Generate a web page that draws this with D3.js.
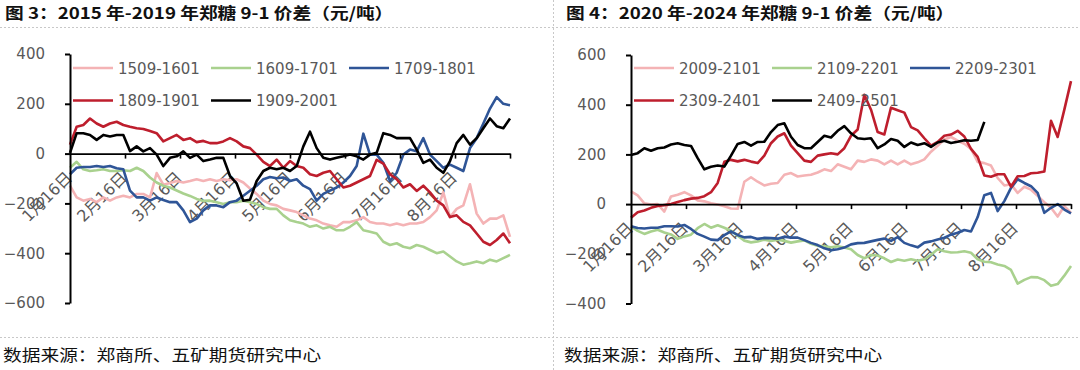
<!DOCTYPE html>
<html>
<head>
<meta charset="utf-8">
<script src="https://cdn.jsdelivr.net/npm/d3@7"></script>
<style>
  body { margin: 0; background: #fff; }
</style>
</head>
<body>
<div class="canvas"></div>
<script>
// x categories (months since 1月16日)
const monthLabels = ['1月16日', '2月16日', '3月16日', '4月16日', '5月16日', '6月16日', '7月16日', '8月16日'];
// samples every ~3.7 days
const STEP = 20 / 165;

// 图3: 2015-2019
const names3 = ['1509-1601', '1609-1701', '1709-1801', '1809-1901', '1909-2001'];
const s1509 = [-129,-176,-189,-182,-195,-176,-189,-176,-169,-176,-162,-162,-176,-78,-125,-118,-110,-116,-110,-103,-110,-103,-110,-103,-107,-103,-116,-140,-162,-189,-202,-208,-222,-228,-235,-248,-261,-268,-281,-288,-294,-275,-275,-268,-255,-275,-281,-281,-288,-281,-288,-281,-281,-275,-255,-228,-156,-255,-222,-208,-123,-241,-281,-261,-261,-248,-334];
const s1609 = [-57,-33,-63,-70,-67,-63,-70,-70,-67,-70,-57,-70,-96,-116,-129,-136,-148,-160,-170,-182,-190,-189,-195,-202,-195,-195,-189,-195,-202,-215,-222,-222,-248,-268,-275,-281,-294,-288,-301,-294,-308,-308,-294,-275,-308,-314,-321,-354,-367,-360,-374,-380,-367,-374,-387,-400,-393,-413,-433,-446,-440,-433,-440,-426,-433,-420,-407];
const s1709 = [-83,-57,-54,-54,-50,-54,-50,-59,-63,-149,-176,-176,-189,-176,-186,-195,-195,-228,-275,-261,-228,-208,-208,-215,-195,-189,-169,-149,-129,-103,-94,-99,-96,-110,-103,-129,-143,-189,-162,-149,-136,-116,-90,-50,80,-4,-4,-37,-110,-77,-4,16,9,62,-4,-30,-57,-44,-57,-70,22,62,121,181,227,200,194];
const s1809 = [36,108,115,141,121,108,121,128,115,108,102,99,91,82,49,62,75,55,62,46,51,42,42,49,62,49,29,22,-4,-33,-50,-24,-57,-30,-50,-57,-83,-90,-77,-70,-103,-136,-129,-116,-103,-90,-25,-40,-83,-103,-136,-123,-150,-129,-156,-189,-208,-255,-248,-274,-288,-321,-354,-367,-347,-321,-360];
const s1909 = [3,82,82,75,55,75,69,75,75,10,29,9,22,-4,-50,-17,-11,9,-17,-4,-30,-24,-17,-17,-90,-120,-189,-185,-110,-70,-57,-63,-57,-70,-50,29,88,22,-17,-24,-17,-11,-4,-11,-24,-4,3,82,75,62,62,62,16,-37,-24,-57,-77,-30,42,75,36,62,102,141,110,102,141];
const ticks3 = [-600, -400, -200, 0, 200, 400];

// 图4: 2020-2024
const names4 = ['2009-2101', '2109-2201', '2209-2301', '2309-2401', '2409-2501'];
const s2009 = [51,35,3,-2,0,-30,31,38,48,35,15,11,3,-2,-9,-18,-19,90,108,90,75,82,85,118,125,111,115,118,127,140,133,160,150,140,175,170,180,175,160,175,160,175,160,168,180,211,235,260,270,255,243,222,170,165,155,105,75,80,45,70,58,33,8,-15,-50,-8,-35];
const s2109 = [-90,-108,-120,-110,-103,-114,-122,-140,-130,-123,-97,-80,-95,-85,-95,-107,-127,-147,-154,-150,-143,-148,-143,-148,-155,-150,-146,-160,-168,-170,-174,-170,-175,-182,-205,-218,-205,-207,-218,-233,-223,-228,-222,-228,-222,-204,-182,-190,-195,-194,-190,-196,-222,-232,-234,-243,-249,-265,-320,-305,-294,-295,-306,-329,-322,-288,-249];
const s2209 = [-89,-96,-98,-95,-95,-89,-89,-90,-84,-100,-120,-131,-143,-145,-125,-110,-124,-134,-132,-140,-136,-137,-139,-131,-135,-135,-145,-156,-165,-178,-186,-182,-175,-162,-157,-156,-150,-144,-139,-148,-133,-156,-166,-174,-155,-150,-142,-135,-123,-115,-104,-110,-52,36,45,-28,12,65,100,85,72,45,-35,-15,0,-22,-37];
const s2309 = [-55,-33,-26,-15,-8,-4,0,8,16,22,25,32,48,85,170,178,172,178,171,165,195,245,272,285,235,205,175,170,195,200,205,200,225,275,300,440,380,290,280,388,378,368,310,297,265,235,250,275,280,295,272,222,190,115,110,120,120,70,112,113,124,126,131,335,270,380,495];
const s2409 = [198,205,225,215,225,228,240,245,238,234,185,140,150,155,151,195,242,250,235,250,251,290,318,325,271,238,225,225,250,275,268,295,314,285,265,262,265,225,240,262,255,230,248,238,245,230,248,255,246,251,257,255,258,331];
const ticks4 = [-400, -200, 0, 200, 400, 600];

const colors = ['#f4b3b5', '#a9d18e', '#2f5597', '#be1e2d', '#000000'];
const source = '数据来源：郑商所、五矿期货研究中心';

const svg = d3
  .select('.canvas')
  .append('svg')
  .attr('width', 1080)
  .attr('height', 370);

// dotted page frame
const frame = svg.append('g')
  .attr('stroke', '#c8c8c8')
  .attr('stroke-dasharray', '2,2')
  .attr('stroke-width', 1);
frame.append('line').attr('x1', 0).attr('x2', 1080).attr('y1', 27.5).attr('y2', 27.5);
frame.append('line').attr('x1', 0).attr('x2', 1080).attr('y1', 337.5).attr('y2', 337.5);
frame.append('line').attr('x1', 553.5).attr('x2', 553.5).attr('y1', 0).attr('y2', 370);

// text that is a bit wider than the font (picture is stretched sideways)
const wideText = (g, x, y, str, size, weight) =>
  g.append('text')
    .attr('transform', `translate(${x},${y}) scale(1.17,1)`)
    .attr('font-family', '"Noto Sans CJK SC", sans-serif')
    .attr('font-size', size)
    .attr('font-weight', weight)
    .attr('fill', '#111')
    .text(str);

const fmt = (d) => (d < 0 ? '\u2212' + Math.abs(d) : d);

function drawPanel(p) {
  const g = svg.append('g');

  wideText(g, p.titleX, 19, p.title, 16, 'bold');
  wideText(g, p.titleX - 2, 361, source, 16, 'normal');

  const x = d3.scaleLinear().domain([0, 8]).range([p.left, p.right]);
  const y = d3.scaleLinear().domain(d3.extent(p.ticks)).range([p.bottom, p.top]);
  const y0 = y(0);

  // month labels sit under the series
  g.selectAll('text.month')
    .data(monthLabels)
    .enter()
    .append('text')
    .attr('class', 'month')
    .attr('transform', (d, i) => `translate(${x(i) + 3},${y0 + 25}) rotate(-45)`)
    .attr('text-anchor', 'end')
    .attr('font-family', '"DejaVu Sans", "Noto Sans CJK SC", sans-serif')
    .attr('font-size', 16)
    .attr('fill', '#595959')
    .text((d) => d);

  // series, first drawn at the back
  const line = d3.line()
    .x((d, i) => x(i * STEP))
    .y((d) => y(d));

  g.selectAll('path.series')
    .data(p.series)
    .enter()
    .append('path')
    .attr('class', 'series')
    .attr('fill', 'none')
    .attr('stroke', (d, i) => colors[i])
    .attr('stroke-width', 2.6)
    .attr('stroke-linejoin', 'round')
    .attr('d', line);

  // y axis
  const yAxis = g.append('g')
    .attr('transform', `translate(${p.left},0)`)
    .call(d3.axisLeft(y).tickValues(p.ticks).tickSize(5).tickSizeOuter(0).tickPadding(20).tickFormat(fmt));
  yAxis.select('.domain').attr('stroke', '#000').attr('stroke-width', 2);
  yAxis.selectAll('.tick line').attr('stroke', '#000').attr('stroke-width', 2);
  yAxis.selectAll('text')
    .attr('font-family', '"DejaVu Sans", sans-serif')
    .attr('font-size', 15)
    .attr('fill', '#595959');

  // category axis crossing at zero
  const xAxis = g.append('g')
    .attr('transform', `translate(0,${y0})`)
    .call(d3.axisBottom(x).tickValues(d3.range(1, 9)).tickSize(5).tickSizeOuter(0).tickFormat(''));
  xAxis.select('.domain').attr('stroke', '#000').attr('stroke-width', 1.6);
  xAxis.selectAll('.tick line').attr('stroke', '#000').attr('stroke-width', 1.6);

  // legend, three per row, no box
  const legend = g.selectAll('g.legend')
    .data(p.names)
    .enter()
    .append('g')
    .attr('class', 'legend')
    .attr('transform', (d, i) => `translate(${p.left + 3 + (i % 3) * 138},${68 + Math.floor(i / 3) * 32.5})`);
  legend.append('line')
    .attr('x2', 40)
    .attr('stroke', (d, i) => colors[i])
    .attr('stroke-width', 2.6);
  legend.append('text')
    .attr('x', 45)
    .attr('y', 5.5)
    .attr('font-family', '"DejaVu Sans", sans-serif')
    .attr('font-size', 15)
    .attr('fill', '#595959')
    .text((d) => d);
}

drawPanel({
  title: '图 3：2015 年-2019 年郑糖 9-1 价差（元/吨）',
  titleX: 5,
  left: 70, right: 510, top: 54, bottom: 303,
  ticks: ticks3,
  names: names3,
  series: [s1509, s1609, s1709, s1809, s1909]
});

drawPanel({
  title: '图 4：2020 年-2024 年郑糖 9-1 价差（元/吨）',
  titleX: 566,
  left: 631, right: 1071, top: 55, bottom: 303.5,
  ticks: ticks4,
  names: names4,
  series: [s2009, s2109, s2209, s2309, s2409]
});
</script>
</body>
</html>
